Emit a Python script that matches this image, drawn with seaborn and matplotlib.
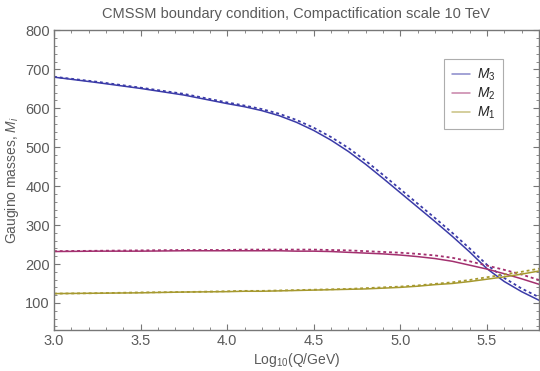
import pandas as pd
import matplotlib
matplotlib.use("Agg")
import matplotlib.pyplot as plt
from matplotlib.ticker import MultipleLocator, FormatStrFormatter
from matplotlib.lines import Line2D
import seaborn as sns

# data
logq = [3.0, 3.25, 3.5, 3.75, 4.0, 4.1, 4.2, 4.3, 4.4, 4.5, 4.6, 4.7, 4.8, 4.9,
        5.0, 5.1, 5.2, 5.3, 5.4, 5.5, 5.6, 5.7, 5.8]
m3 = [680, 666, 651, 634, 612, 604, 594, 581, 564, 543, 518, 489, 456, 420,
      383, 346, 309, 271, 231, 188, 155, 129, 107]
m3_dash = [681, 668, 653, 637, 615, 607, 598, 586, 570, 550, 526, 498, 465, 429,
           392, 355, 318, 280, 240, 198, 164, 137, 115]
m2 = [232, 233, 233, 234, 234, 234, 234, 234, 233, 233, 232, 230, 228, 226,
      223, 219, 214, 207, 197, 187, 175, 162, 148]
m2_dash = [233, 234, 235, 236, 236, 237, 237, 237, 237, 237, 236, 235, 233, 231,
           229, 226, 222, 216, 207, 196, 185, 173, 159]
m1 = [124, 125, 126, 128, 129, 130, 130, 131, 132, 133, 134, 135, 136, 138,
      140, 143, 147, 150, 155, 161, 167, 174, 182]
m1_dash = [124, 125, 127, 128, 130, 131, 131, 132, 133, 134, 135, 136, 138, 140,
           142, 145, 149, 153, 159, 166, 173, 180, 188]

labels = ["$M_3$", "$M_2$", "$M_1$"]
colors = ["#3b3ba8", "#a3306f", "#a6992f"]

df = pd.DataFrame({"logq": logq, "m3": m3, "m3d": m3_dash, "m2": m2, "m2d": m2_dash,
                   "m1": m1, "m1d": m1_dash})

sns.set_style("white")
plt.rcParams["font.family"] = ["Liberation Sans", "DejaVu Sans"]
plt.rcParams["mathtext.fontset"] = "custom"
plt.rcParams["mathtext.it"] = "Liberation Sans:italic"
plt.rcParams["mathtext.rm"] = "Liberation Sans"

fig = plt.figure(figsize=(5.4, 3.71), dpi=100)
ax = fig.add_axes([0.100, 0.110, 0.898, 0.808])

gray = "#5a5a5a"
for col, dcol, c in zip(["m3", "m2", "m1"], ["m3d", "m2d", "m1d"], colors):
    sns.lineplot(data=df, x="logq", y=col, color=c, lw=1.1, ax=ax)
    sns.lineplot(data=df, x="logq", y=dcol, color=c, lw=1.3,
                 linestyle=(0, (1.6, 1.6)), ax=ax)

ax.set_xlim(3.0, 5.8)
ax.set_ylim(30, 800)
ax.xaxis.set_major_locator(MultipleLocator(0.5))
ax.xaxis.set_minor_locator(MultipleLocator(0.1))
ax.yaxis.set_minor_locator(MultipleLocator(20))
ax.set_yticks([100, 200, 300, 400, 500, 600, 700, 800])
ax.xaxis.set_major_formatter(FormatStrFormatter("%.1f"))

ax.tick_params(which="both", direction="in", bottom=True, left=True, top=True, right=True,
               colors="#777777", labelcolor=gray, labelsize=10.5, pad=3)
ax.tick_params(which="major", length=4, width=0.8)
ax.tick_params(which="minor", length=2, width=0.6)
for s in ax.spines.values():
    s.set_color("#777777")
    s.set_linewidth(1.0)

ax.set_xlabel("Log$_{10}$(Q/GeV)", color=gray, fontsize=10, labelpad=2)
ax.set_ylabel("Gaugino masses, $M_i$", color=gray, fontsize=10, labelpad=3)
ax.set_title("CMSSM boundary condition, Compactification scale 10 TeV",
             color=gray, fontsize=10.5, pad=9)

handles = [Line2D([], [], color=c, lw=1.1, alpha=0.6) for c in colors]
leg = ax.legend(handles, labels, loc="upper left", bbox_to_anchor=(0.822, 0.841),
                bbox_transform=fig.transFigure, borderaxespad=0,
                frameon=True, fancybox=False, fontsize=10, handlelength=1.3,
                handletextpad=0.5, borderpad=0.55, labelspacing=0.2)
leg.get_frame().set_edgecolor("#999999")
leg.get_frame().set_linewidth(0.8)

fig.savefig("out.png", dpi=100)
